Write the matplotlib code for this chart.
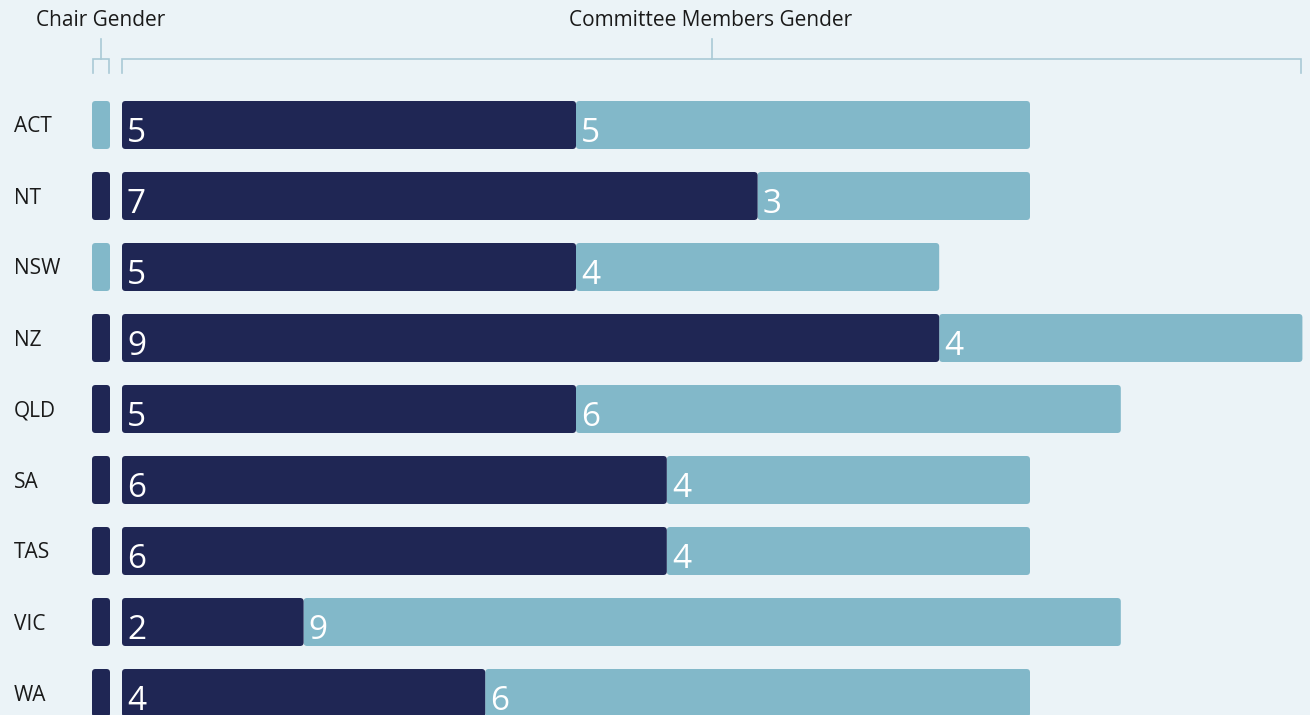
import matplotlib.pyplot as plt
from matplotlib.patches import FancyBboxPatch

plt.rcParams["font.family"] = ["Open Sans", "DejaVu Sans"]

# data
regions = ["ACT", "NT", "NSW", "NZ", "QLD", "SA", "TAS", "VIC", "WA"]
chair_gender = ["F", "M", "F", "M", "M", "M", "M", "M", "M"]
members_male = [5, 7, 5, 9, 5, 6, 6, 2, 4]
members_female = [5, 3, 4, 4, 6, 4, 4, 9, 6]

DARK = "#1f2654"
LIGHT = "#82b8c9"
BG = "#ebf3f7"
BRACKET = "#a9cad6"
gender_colour = {"M": DARK, "F": LIGHT}

W, H = 1310, 715
PX_X = 90.8   # pixels per member
PX_Y = 71.0   # pixels per row
X0 = 122      # pixel where committee bars start
Y0 = 125      # pixel centre of first row

fig = plt.figure(figsize=(W / 100, H / 100), dpi=100)
fig.patch.set_facecolor(BG)
ax = fig.add_axes([0, 0, 1, 1])
ax.set_facecolor(BG)
ax.set_xlim(-X0 / PX_X, (W - X0) / PX_X)
ax.set_ylim((H - Y0) / PX_Y, -Y0 / PX_Y)
ax.axis("off")


def px(x=None, y=None):
    # pixel -> data coordinates
    if x is not None:
        return (x - X0) / PX_X
    return (y - Y0) / PX_Y


bar_h = 48 / PX_Y
rows = list(range(len(regions)))

chair_left = px(x=92)
chair_w = 18 / PX_X
chair_bars = ax.barh(rows, [chair_w] * len(rows), left=chair_left, height=bar_h,
                     color=[gender_colour[g] for g in chair_gender])
light_bars = ax.barh(rows, members_female, left=members_male, height=bar_h, color=LIGHT)
dark_bars = ax.barh(rows, members_male, height=bar_h, color=DARK)


def round_bars(container, z):
    # swap plain rectangles for rounded ones
    r = 3.5 / PX_X
    for b in container:
        x, y = b.get_x(), b.get_y()
        w, h = b.get_width(), b.get_height()
        p = FancyBboxPatch((x, y), w, h,
                           boxstyle=f"round,pad=0,rounding_size={r}",
                           mutation_aspect=PX_X / PX_Y,
                           facecolor=b.get_facecolor(), edgecolor="none", zorder=z)
        ax.add_patch(p)
        b.remove()


round_bars(chair_bars, 2)
round_bars(light_bars, 2)
round_bars(dark_bars, 3)

off = 5 / PX_X
base = 17 / PX_Y
for i in rows:
    ax.text(off, i + base, str(members_male[i]), color="white", fontsize=24,
            va="baseline", ha="left", zorder=5)
    ax.text(members_male[i] + off, i + base, str(members_female[i]), color="white",
            fontsize=24, va="baseline", ha="left", zorder=5)
    ax.text(px(x=14), i + 2 / PX_Y, regions[i], color="#1a1a1a", fontsize=15,
            va="center", ha="left")

# brackets
y_line = px(y=59)
y_tick = px(y=73)
y_stem = px(y=39)
lw = 1.2
for xa, xb in [(93, 109), (122, 1301)]:
    a, b = px(x=xa), px(x=xb)
    mid = (a + b) / 2
    ax.plot([a, a, b, b], [y_tick, y_line, y_line, y_tick], color=BRACKET, lw=lw,
            solid_joinstyle="miter", clip_on=False)
    ax.plot([mid, mid], [y_line, y_stem], color=BRACKET, lw=lw)

ax.text(px(x=101), px(y=20), "Chair Gender", fontsize=15, color="#1a1a1a",
        ha="center", va="center")
ax.text(px(x=711), px(y=20), "Committee Members Gender", fontsize=15,
        color="#1a1a1a", ha="center", va="center")

fig.savefig("out.png", dpi=100, facecolor=BG)
